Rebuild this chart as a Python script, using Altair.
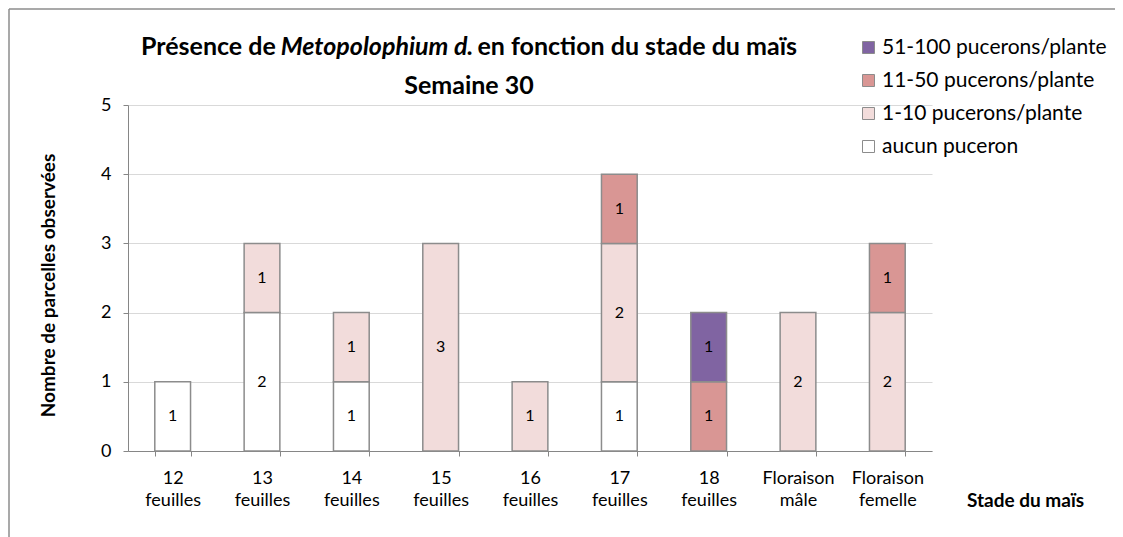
import altair as alt
import pandas as pd

stages = ["12 feuilles", "13 feuilles", "14 feuilles", "15 feuilles", "16 feuilles",
          "17 feuilles", "18 feuilles", "Floraison mâle", "Floraison femelle"]
series_names = ["aucun puceron", "1-10 pucerons/plante", "11-50 pucerons/plante", "51-100 pucerons/plante"]
aucun = [1, 2, 1, 0, 0, 1, 0, 0, 0]
p1_10 = [0, 1, 1, 3, 1, 2, 0, 2, 2]
p11_50 = [0, 0, 0, 0, 0, 1, 1, 0, 1]
p51_100 = [0, 0, 0, 0, 0, 0, 1, 0, 0]
series_colors = ["#ffffff", "#f2dcdb", "#d99694", "#8064a2"]
y_ticks = [0, 1, 2, 3, 4, 5]

rows = []
for k, (name, vals) in enumerate(zip(series_names, [aucun, p1_10, p11_50, p51_100])):
    for s, v in zip(stages, vals):
        if v > 0:
            rows.append({"stage": s, "serie": name, "n": v, "ord": k})
df = pd.DataFrame(rows)

FONT = "Lato"
AX = "#868686"
PLOT_W, PLOT_H = 804, 346

xscale = alt.Scale(paddingInner=0.6, paddingOuter=0.3)
yscale = alt.Scale(domain=[0, 5])

x_axis = alt.Axis(
    title="Stade du maïs", titleX=897, titleY=49, titleAlign="center",
    titleBaseline="middle", titleFontWeight="bold", titleFontSize=19, titleFont=FONT,
    titleColor="#000",
    labelAngle=0, labelExpr="split(datum.label, ' ')", labelLineHeight=22,
    labelFontSize=18, labelFont=FONT, labelColor="#000", labelPadding=13,
    labelBaseline="top", tickBand="extent", tickSize=5, domainColor=AX,
    tickColor=AX, grid=False,
)

y_axis = alt.Axis(
    title="Nombre de parcelles observées", titleFont=FONT, titleFontSize=19,
    titleFontWeight="bold", titleColor="#000", titleX=-80, titleY=180,
    titleAlign="center", titleBaseline="middle", titleAngle=270,
    values=y_ticks, format="d", labelFont=FONT, labelFontSize=18, labelColor="#000",
    labelPadding=12, tickSize=5, tickColor=AX, domainColor=AX,
    grid=True, gridColor="#d9d9d9",
)

legend_order = series_names[::-1]
legend_colors = series_colors[::-1]

bars = alt.Chart(df).mark_bar(stroke="#8c8c8c", strokeWidth=1.5).encode(
    x=alt.X("stage:N", sort=stages, scale=xscale, axis=x_axis),
    y=alt.Y("n:Q", scale=yscale, stack="zero", axis=y_axis),
    color=alt.Color(
        "serie:N",
        scale=alt.Scale(domain=legend_order, range=legend_colors),
        legend=alt.Legend(
            title=None, orient="none", legendX=730, legendY=-68, padding=0,
            symbolType="square", symbolSize=144, symbolStrokeColor="#8c8c8c",
            symbolStrokeWidth=1, labelFontSize=21, labelFont=FONT, labelColor="#000",
            rowPadding=11, labelOffset=3, labelLimit=400,
        ),
    ),
    order=alt.Order("ord:Q"),
)

labels = alt.Chart(df).transform_stack(
    stack="n", groupby=["stage"], sort=[alt.SortField("ord")], as_=["y0", "y1"]
).transform_calculate(mid="(datum.y0 + datum.y1) / 2").mark_text(
    font=FONT, fontSize=16, color="#000"
).encode(
    x=alt.X("stage:N", sort=stages, scale=xscale, axis=x_axis),
    y=alt.Y("mid:Q", scale=yscale, axis=y_axis),
    text="n:Q",
)


def title_part(txt, x, y, align, style="normal"):
    return alt.Chart(pd.DataFrame({"t": [txt]})).mark_text(
        font=FONT, fontSize=25, fontWeight="bold", fontStyle=style, align=align,
        baseline="alphabetic", color="#000"
    ).encode(x=alt.value(x), y=alt.value(y), text="t:N")


t1 = title_part("Présence de", 13, -50, "left")
t2 = title_part("Metopolophium d.", 249, -50, "center", "italic")
t3 = title_part("en fonction du stade du maïs", 669, -50, "right")
t4 = title_part("Semaine 30", 341, -11, "center")

frame = alt.Chart(pd.DataFrame({"a": [0]}))
border_left = frame.mark_rule(color="#8c8c8c", strokeWidth=1.5).encode(
    x=alt.value(-119), y=alt.value(-96), y2=alt.value(600))
border_top = frame.mark_rule(color="#8c8c8c", strokeWidth=1.5).encode(
    x=alt.value(-119), x2=alt.value(1100), y=alt.value(-96))

chart = alt.layer(bars, labels, t1, t2, t3, t4, border_left, border_top).properties(
    width=PLOT_W, height=PLOT_H,
    autosize=alt.AutoSizeParams(type="none"),
    padding={"left": 120, "top": 97, "right": 183, "bottom": 86},
).configure_view(stroke=None)

chart.save("out.html", embed_options={"renderer": "svg", "actions": False})
